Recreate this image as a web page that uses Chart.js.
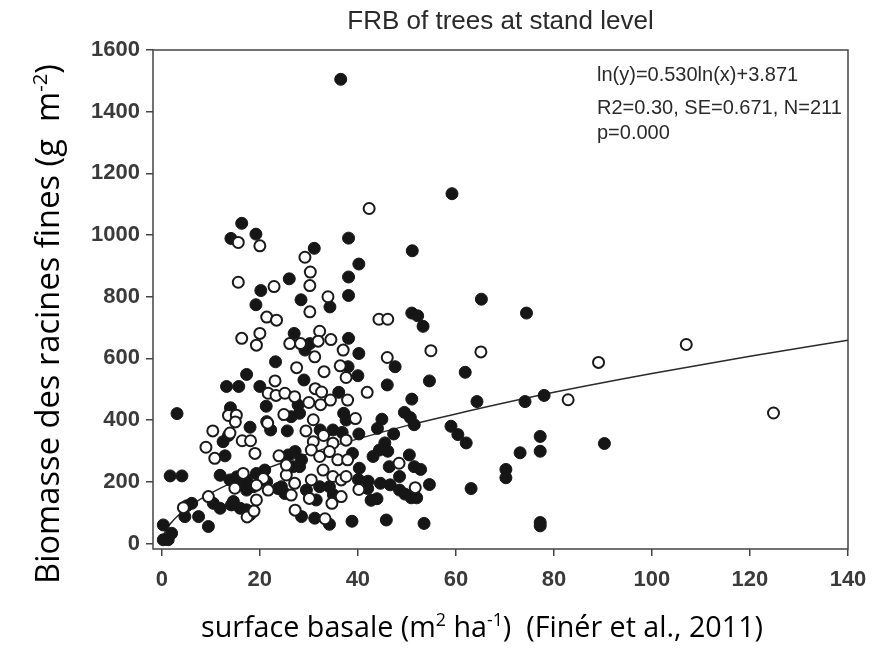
<!DOCTYPE html>
<html>
<head>
<meta charset="utf-8">
<script src="https://cdn.jsdelivr.net/npm/chart.js@4"></script>
<style>
  body { margin: 0; background: #fff; }
  #wrap { width: 894px; height: 652px; }
</style>
</head>
<body>
<div id="wrap"><canvas id="mycanvas" width="894" height="652"></canvas></div>
<script>
// filled circles
var filledX = [36.5,16.3,14.1,19.2,38.1,31.1,40.2,26.0,38.1,20.2,38.1,28.4,19.2,34.3,59.2,51.1,65.2,74.4,51.0,52.2,53.3,27.0,29.2,30.2,38.1,40.2,23.2,38.0,47.6,29.0,17.3,40.0,61.9,46.0,54.6,13.2,15.7,20.0,
  21.3,27.8,36.1,14.0,3.1,18.0,22.2,25.6,26.4,28.1,32.3,34.9,36.8,37.1,40.2,44.9,44.0,12.5,13.6,21.4,51.0,37.6,49.5,50.7,51.5,47.3,64.3,74.1,78.0,59.0,60.4,62.1,77.2,90.3,45.5,
  12.9,25.8,27.2,28.5,26.8,28.1,38.9,40.3,43.1,44.4,46.1,46.4,48.5,50.5,51.5,52.8,77.2,73.1,70.2,70.2,40.1,42.1,44.6,46.6,48.5,49.6,50.9,52.0,54.6,42.0,42.7,43.9,63.1,45.8,53.5,77.2,77.2,
  1.7,4.1,11.9,13.9,15.3,17.3,19.3,21.0,15.6,17.3,18.7,21.4,23.7,25.1,10.5,11.9,5.1,6.1,4.7,7.5,9.5,0.3,2.0,0.3,1.3,14.6,16.0,17.3,18.0,14.2,24.4,29.5,32.2,34.2,35.0,31.5,28.5,31.2,34.2,38.8];
var filledY = [1505,1038,989,1003,990,957,906,858,864,820,804,790,774,767,1134,949,792,747,747,738,704,681,627,648,665,616,589,573,573,530,548,544,555,514,527,509,509,509,
  445,449,490,440,421,377,368,365,411,422,368,368,360,422,355,403,373,330,350,395,468,400,425,408,385,355,460,460,480,380,353,326,347,324,326,
  284,287,298,271,249,249,292,244,282,303,299,249,217,287,249,240,299,294,240,213,207,202,195,190,173,160,148,148,191,178,140,145,178,76,65,68,57,
  219,219,221,206,216,206,227,238,195,173,184,200,178,162,130,114,122,130,87,87,55,60,33,12,12,136,114,109,93,125,184,173,184,184,158,141,87,82,62,72];

// open circles
var openX = [42.3,15.6,20.0,29.2,30.3,15.6,30.2,22.9,33.9,30.2,21.4,23.4,44.3,46.1,16.3,19.3,20.0,26.1,28.3,32.2,31.9,34.5,37.0,31.2,46.0,27.5,33.1,36.4,37.6,54.9,65.1,89.1,107.0,124.8,82.9,23.1,
  21.7,23.3,25.1,27.1,31.3,32.6,30.0,32.4,34.4,37.9,41.9,13.6,15.2,15.0,21.6,24.9,29.4,30.9,33.0,39.5,10.4,13.9,16.4,18.1,9.0,
  30.9,34.9,37.6,30.5,32.2,34.2,35.9,37.9,48.4,25.4,27.1,30.5,32.9,34.9,36.6,37.6,51.7,26.4,30.1,36.6,40.2,34.7,27.2,33.3,10.8,19.0,23.9,25.4,16.6,20.7,14.9,19.3,21.7,9.5,4.4,17.4,18.8,19.3];
var openY = [1086,976,965,928,880,847,836,833,800,751,734,724,727,727,665,643,681,648,648,688,656,661,627,605,603,570,557,576,538,625,621,587,645,423,466,527,
  487,480,487,476,502,491,457,450,465,465,490,415,416,394,390,418,365,401,350,405,365,358,333,333,312,
  330,325,335,303,282,298,271,271,260,222,195,206,238,217,206,217,181,157,146,152,175,130,108,80,276,292,284,254,227,211,179,189,173,152,116,86,105,141];

// fitted curve ln(y)=0.530ln(x)+3.871
var fitX = [0.3,0.5,1,2,3,5,7,10,15,20,30,40,50,60,80,100,120,140];
var fitY = [25,33,48,69,86,113,135,163,202,235,291,339,382,420,490,551,607,659];

var xTicks = [0,20,40,60,80,100,120,140];
var yTicks = [0,200,400,600,800,1000,1200,1400,1600];

var titleText = "FRB of trees at stand level";
var noteLines = ["ln(y)=0.530ln(x)+3.871", "R2=0.30, SE=0.671, N=211", "p=0.000"];

function pts(xs, ys) {
  var out = [];
  for (var i in xs) out.push({x: xs[i], y: ys[i]});
  return out;
}

// text with superscripts, segments = [[text, isSup], ...]
function drawRich(ctx, segs, x, y, size, family) {
  var total = 0;
  segs.forEach(function(s) {
    ctx.font = (s[1] ? size * 0.62 : size) + "px " + family;
    total += ctx.measureText(s[0]).width;
  });
  var cx = x - total / 2;
  segs.forEach(function(s) {
    ctx.font = (s[1] ? size * 0.62 : size) + "px " + family;
    ctx.fillText(s[0], cx, s[1] ? y - size * 0.38 : y);
    cx += ctx.measureText(s[0]).width;
  });
}

var extras = {
  id: 'extras',
  beforeDatasetsDraw: function(chart) {
    var a = chart.chartArea, ctx = chart.ctx;
    ctx.save();
    ctx.strokeStyle = '#444';
    ctx.lineWidth = 1.5;
    ctx.strokeRect(a.left, a.top, a.right - a.left, a.bottom - a.top);
    ctx.restore();
  },
  afterDraw: function(chart) {
    var ctx = chart.ctx;
    ctx.save();
    ctx.fillStyle = '#2a2a2a';
    ctx.textAlign = 'left';
    ctx.textBaseline = 'alphabetic';
    ctx.font = "20px 'Liberation Sans'";
    ctx.fillText(noteLines[0], 597, 81);
    ctx.fillText(noteLines[1], 597, 114);
    ctx.fillText(noteLines[2], 597, 139);

    ctx.fillStyle = '#000';
    drawRich(ctx, [["surface basale (m", false], ["2", true], [" ha", false], ["-1", true], [")  (Finér et al., 2011)", false]],
      482, 637, 28.7, "'Open Sans'");

    ctx.translate(59, 324);
    ctx.rotate(-Math.PI / 2);
    drawRich(ctx, [["Biomasse des racines fines (g  m", false], ["-2", true], [")", false]], 0, 0, 32.7, "'Open Sans'");
    ctx.restore();
  }
};

var tickFont = {family: "'Liberation Sans'", size: 22, weight: 'bold'};

var chartdata = {
  datasets: [
    {
      label: "open",
      data: pts(openX, openY),
      showLine: false,
      pointRadius: 5.5,
      pointBackgroundColor: "#fff",
      pointBorderColor: "#1a1a1a",
      pointBorderWidth: 2
    },
    {
      label: "filled",
      data: pts(filledX, filledY),
      showLine: false,
      pointRadius: 6,
      pointBackgroundColor: "#161616",
      pointBorderColor: "#161616",
      pointBorderWidth: 1
    },
    {
      label: "fit",
      type: "line",
      data: pts(fitX, fitY),
      borderColor: "#2a2a2a",
      borderWidth: 1.5,
      pointRadius: 0,
      fill: false,
      cubicInterpolationMode: "monotone"
    }
  ]
};

var ctx = document.getElementById("mycanvas");

var ScatterGraph = new Chart(ctx, {
  type: 'scatter',
  data: chartdata,
  plugins: [extras],
  options: {
    responsive: false,
    animation: false,
    devicePixelRatio: 1,
    layout: { padding: { left: 0, right: 46, top: 0, bottom: 0 } },
    plugins: {
      legend: { display: false },
      tooltip: { enabled: false },
      title: {
        display: true,
        text: titleText,
        fullSize: false,
        color: '#2a2a2a',
        font: { family: "'Liberation Sans'", size: 26, weight: 'normal' },
        padding: { top: 6, bottom: 12.8 }
      }
    },
    scales: {
      x: {
        type: 'linear',
        min: -1.8,
        max: 140,
        afterBuildTicks: function(s) { s.ticks = xTicks.map(function(v) { return {value: v}; }); },
        afterFit: function(s) { s.height = 103; },
        ticks: { font: tickFont, color: '#3a3a3a', padding: 11, maxRotation: 0,
          callback: function(v) { return String(v); } },
        grid: { drawOnChartArea: false, tickLength: 7, color: '#444', lineWidth: 1.5 },
        border: { display: false }
      },
      y: {
        type: 'linear',
        min: -18,
        max: 1600,
        afterBuildTicks: function(s) { s.ticks = yTicks.map(function(v) { return {value: v}; }); },
        afterFit: function(s) { s.width = 153; },
        ticks: { font: tickFont, color: '#3a3a3a', padding: 6,
          callback: function(v) { return String(v); } },
        grid: { drawOnChartArea: false, tickLength: 7, color: '#444', lineWidth: 1.5 },
        border: { display: false }
      }
    }
  }
});
</script>
</body>
</html>
